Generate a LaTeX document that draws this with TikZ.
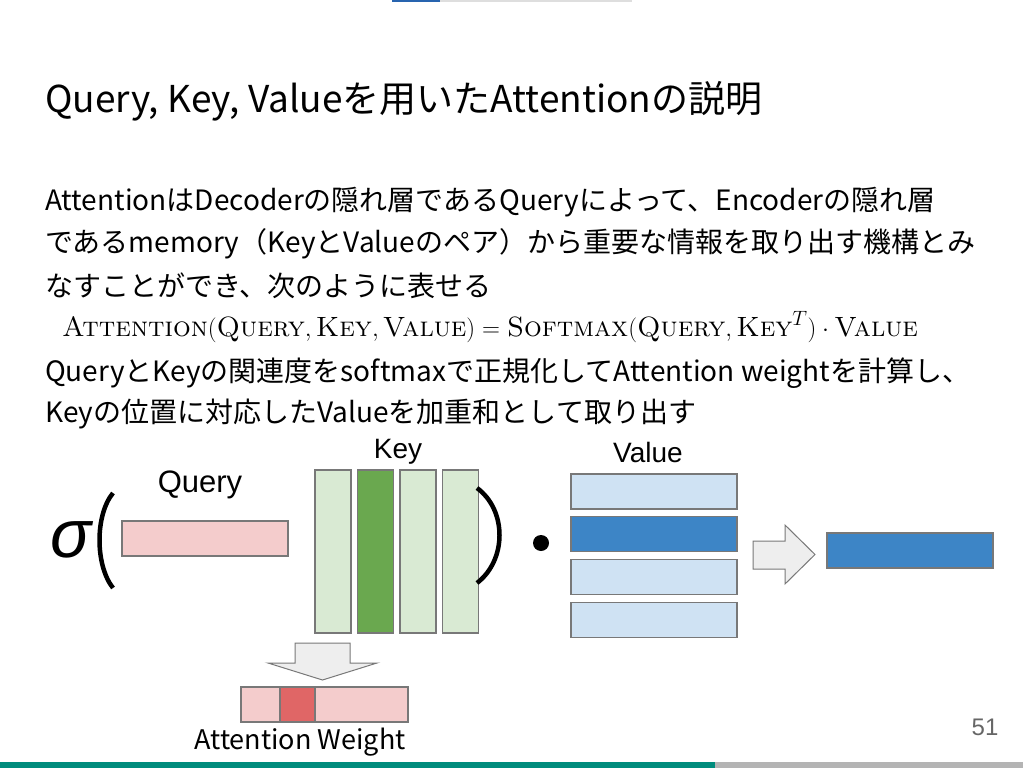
\documentclass[tikz,border=0pt]{standalone}
\usepackage{fontspec}
\usepackage{amsmath}
\newfontfamily\jpfont{Noto Sans CJK JP}
\newfontfamily\arialfont{Liberation Sans}
\usepackage{tikz}
\usetikzlibrary{positioning, calc}
\definecolor{qpink}{RGB}{244, 204, 204}
\definecolor{wred}{RGB}{224, 102, 102}
\definecolor{keylight}{RGB}{217, 234, 211}
\definecolor{keydark}{RGB}{106, 168, 79}
\definecolor{vallight}{RGB}{207, 226, 243}
\definecolor{valdark}{RGB}{61, 133, 198}
\definecolor{arrowfill}{RGB}{238, 238, 238}
\definecolor{edgegray}{RGB}{120, 120, 120}
\definecolor{footteal}{RGB}{0, 140, 125}
\definecolor{footgray}{RGB}{180, 180, 180}
\definecolor{topblue}{RGB}{40, 100, 175}
\definecolor{topgray}{RGB}{222, 222, 222}

\begin{document}
\begin{tikzpicture}[
  x=1pt,
  y=-1pt,
  every node/.style={inner sep=0pt},
  body/.style={font=\jpfont\fontsize{28}{28}\selectfont, anchor=west},
  label/.style={font=\arialfont\fontsize{28}{28}\selectfont},
  cell/.style={draw=edgegray, line width=1.2pt},
  hbar/.style={cell, minimum width=166pt, minimum height=35pt},
  kcol/.style={cell, minimum width=36pt, minimum height=163pt},
  blockarrow/.style={draw=edgegray, fill=arrowfill, line width=1pt, line join=miter},
  paren/.style={line width=4.5pt}
]

\useasboundingbox (0,0) rectangle (1023,768);

% slide bars
\fill[topblue] (392,0) rectangle (440,2);
\fill[topgray] (440,0) rectangle (632,2);
\fill[footteal] (0,762) rectangle (715,768);
\fill[footgray] (715,762) rectangle (1023,768);

\node[font=\jpfont\fontsize{37}{37}\selectfont, anchor=west] (title) at (45,101)
  {Query, Key, Valueを用いたAttentionの説明};

\node[body] (line1) at (45,202) {AttentionはDecoderの隠れ層であるQueryによって、Encoderの隠れ層};
\node[body] (line2) at (45,244) {であるmemory（KeyとValueのペア）から重要な情報を取り出す機構とみ};
\node[body] (line3) at (45,286) {なすことができ、次のように表せる};
\node[anchor=west] (eqn) at (62,327) {\fontsize{27.9}{27.9}\selectfont
  $\textsc{Attention}(\textsc{Query},\textsc{Key},\textsc{Value})
   =\textsc{Softmax}(\textsc{Query},\textsc{Key}^{T})\cdot\textsc{Value}$};
\node[body] (line4) at (45,373) {QueryとKeyの関連度をsoftmaxで正規化してAttention weightを計算し、};
\node[body] (line5) at (45,414) {Keyの位置に対応したValueを加重和として取り出す};

% softmax( Query , Key^T )
\node[font=\arialfont\itshape\fontsize{68}{68}\selectfont] (sigma) at (71,540) {σ};
\draw[paren] (113,493) .. controls (95,515) and (95,565) .. (113,588);
\node[hbar, fill=qpink] (query) at (205,538.5) {};
\node[label, font=\arialfont\fontsize{31}{31}\selectfont] (querylbl) at (200,485) {Query};

\foreach \i/\c in {0/keylight, 1/keydark, 2/keylight, 3/keylight} {
  \node[kcol, fill=\c] (key\i) at (333+42.5*\i, 551.5) {};
}
\node[label] (keylbl) at (398,452) {Key};
\draw[paren] (477,488) .. controls (507,510) and (507,560) .. (477,583);

\fill (541,543) circle (8);

% values
\foreach \i/\c in {0/vallight, 1/valdark, 2/vallight, 3/vallight} {
  \node[hbar, fill=\c] (val\i) at (654, 491.5+42.7*\i) {};
}
\node[label] (vallbl) at (648,452) {Value};

\draw[blockarrow] (753,541) -- (785,541) -- (785,525) -- (815,554.5)
  -- (785,584) -- (785,569) -- (753,569) -- cycle;
\node[hbar, fill=valdark] (out) at (910,550.5) {};

% attention weight
\draw[blockarrow] (295,643) -- (350,643) -- (350,663) -- (377,663)
  -- (322.5,680) -- (268,663) -- (295,663) -- cycle;
\node[cell, fill=qpink, minimum width=167pt, minimum height=35pt] (weight) at (324.5,704.5) {};
\node[cell, fill=wred, minimum width=35pt, minimum height=35pt] (wcell) at (297.5,704.5) {};
\node[font=\jpfont\fontsize{27}{27}\selectfont] (weightlbl) at (300,742) {Attention Weight};

\node[font=\arialfont\fontsize{24}{24}\selectfont, text=gray!80!black] (page) at (985,727) {51};

\end{tikzpicture}
\end{document}
